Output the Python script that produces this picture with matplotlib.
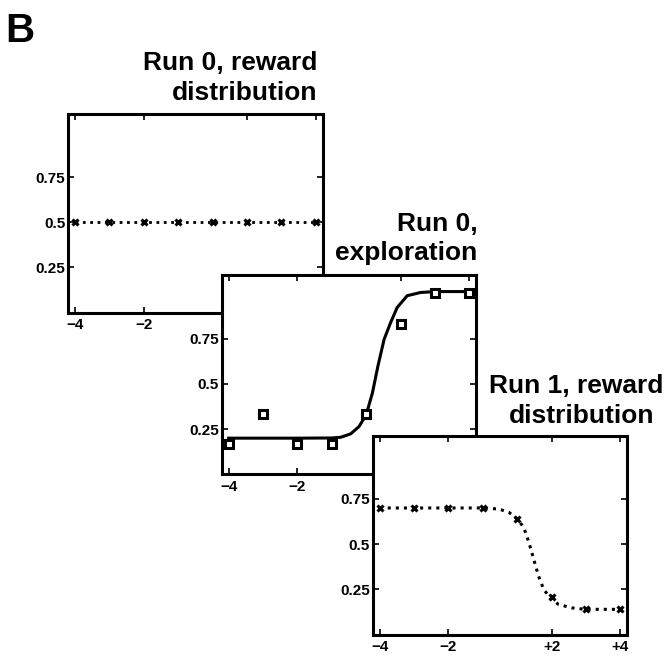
import matplotlib

matplotlib.use("Agg")
import matplotlib.pyplot as plt

plt.rcParams["font.family"] = ["Liberation Sans", "DejaVu Sans"]
plt.rcParams["font.weight"] = "bold"

# x positions are the 8 offsets (no 0), drawn at index 1..8
POSITIONS = [1, 2, 3, 4, 5, 6, 7, 8]
XTICKS = [1, 3, 6, 8]
XTICK_LABELS = ["\u22124", "\u22122", "+2", "+4"]
YTICKS = [0.25, 0.5, 0.75]
YTICK_LABELS = ["0.25", "0.5", "0.75"]

# run 0, reward distribution (flat)
run0_reward = [0.5, 0.5, 0.5, 0.5, 0.5, 0.5, 0.5, 0.5]

# run 0, exploration: observed proportions and fitted curve
run0_explore = [1 / 6, 1 / 3, 1 / 6, 1 / 6, 1 / 3, 5 / 6, 1.0, 1.0]
fit_x = [1.0, 3.0, 4.0, 4.26, 4.55, 4.79, 5.0, 5.18, 5.34, 5.52, 5.71, 5.90, 6.19, 6.58, 7.02, 8.0]
fit_y = [0.20, 0.20, 0.201, 0.205, 0.224, 0.264, 0.329, 0.45, 0.598, 0.746, 0.839, 0.922, 0.987, 1.005, 1.01, 1.01]

# run 1, reward distribution
run1_reward = [0.70, 0.70, 0.70, 0.70, 0.64, 0.21, 0.14, 0.14]
run1_curve_x = [1.0, 4.0, 4.47, 4.76, 5.0, 5.19, 5.34, 5.48, 5.62, 5.77, 5.96, 6.2, 6.59, 6.97, 8.0]
run1_curve_y = [0.70, 0.70, 0.694, 0.676, 0.64, 0.593, 0.51, 0.417, 0.324, 0.25, 0.204, 0.167, 0.148, 0.14, 0.14]


def style_axes(ax):
    ax.set_xlim(0.8, 8.2)
    ax.set_ylim(0, 1.1)
    ax.set_xticks(XTICKS)
    ax.set_xticklabels(XTICK_LABELS)
    ax.set_yticks(YTICKS)
    ax.set_yticklabels(YTICK_LABELS)
    ax.tick_params(direction="in", top=True, right=True, length=4, width=1.2, labelsize=11)
    ax.tick_params(axis="x", pad=4)
    ax.tick_params(axis="y", pad=2)
    for spine in ax.spines.values():
        spine.set_linewidth(2.2)
    for label in ax.get_xticklabels() + ax.get_yticklabels():
        label.set_fontweight("bold")


def title_line(ax, text, x_right, y_base):
    ax.text(x_right, y_base, text, transform=ax.transAxes, ha="right", va="baseline",
            fontsize=19, fontweight="bold")


def main():
    fig = plt.figure(figsize=(6.68, 6.57), dpi=100)

    w, h = 0.381, 0.303
    ax1 = fig.add_axes([0.102, 0.524, w, h])
    ax2 = fig.add_axes([0.332, 0.278, w, h])
    ax3 = fig.add_axes([0.558, 0.034, w, h])

    ax1.plot(POSITIONS, run0_reward, color="black", linestyle=":", linewidth=2,
             marker="x", markersize=5, markeredgewidth=2.2)
    style_axes(ax1)
    title_line(ax1, "Run 0, reward", 0.98, 1.22)
    title_line(ax1, "distribution", 0.98, 1.07)

    ax2.plot(fit_x, fit_y, color="black", linewidth=2.2)
    ax2.plot(POSITIONS, run0_explore, linestyle="none", marker="s", markersize=6,
             markerfacecolor="white", markeredgecolor="black", markeredgewidth=2.2)
    style_axes(ax2)
    title_line(ax2, "Run 0,", 1.005, 1.22)
    title_line(ax2, "exploration", 1.005, 1.075)

    ax3.plot(run1_curve_x, run1_curve_y, color="black", linestyle=":", linewidth=2.2)
    ax3.plot(POSITIONS, run1_reward, linestyle="none", color="black",
             marker="x", markersize=5, markeredgewidth=2.2)
    style_axes(ax3)
    title_line(ax3, "Run 1, reward", 1.14, 1.215)
    title_line(ax3, "distribution", 1.105, 1.065)

    fig.text(0.008, 0.936, "B", fontsize=29, fontweight="bold", ha="left", va="baseline")

    fig.savefig("out.png", dpi=100)
    plt.close(fig)


if __name__ == "__main__":
    main()
